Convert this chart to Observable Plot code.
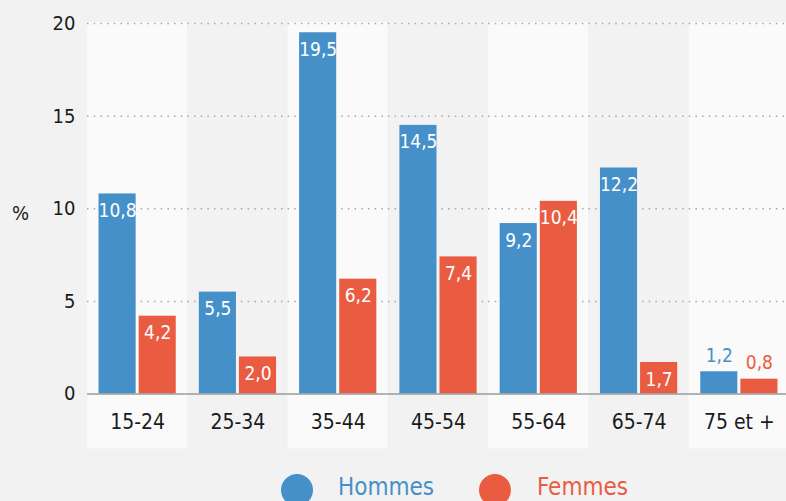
<!DOCTYPE html>
<html><head><meta charset="utf-8">
<script src="https://cdn.jsdelivr.net/npm/d3@7"></script>
<script src="https://cdn.jsdelivr.net/npm/@observablehq/plot@0.6"></script>
<style>
html,body{margin:0;padding:0;background:#f2f2f2;overflow:hidden;width:786px;height:501px;}
body{font-family:"Liberation Sans Narrow","DejaVu Sans Condensed",Roboto,sans-serif;}
#wrap{position:relative;width:786px;height:501px;}
#legend{position:absolute;left:0;top:460px;width:786px;height:41px;overflow:hidden;}
.dot{position:absolute;width:32px;height:32px;border-radius:50%;top:14px;}
.lab{position:absolute;top:12px;font-size:24px;line-height:30px;}
</style></head>
<body><div id="wrap"><div id="chart"></div><div id="legend"></div></div>
<script>
const categories = ["15-24","25-34","35-44","45-54","55-64","65-74","75 et +"];
const hommes = [10.8, 5.5, 19.5, 14.5, 9.2, 12.2, 1.2];
const femmes = [4.2, 2.0, 6.2, 7.4, 10.4, 1.7, 0.8];
const series = ["Hommes", "Femmes"];
const colors = ["#4590c8", "#ea5c41"];
const yTicks = [0, 5, 10, 15, 20];
const gridTicks = [5, 10, 15, 20];

const rows = [];
categories.forEach((c, i) => {
  rows.push({cat: c, sex: "Hommes", v: hommes[i]});
  rows.push({cat: c, sex: "Femmes", v: femmes[i]});
});
const fmt = v => v.toFixed(1).replace(".", ",");
const bands = categories.map((c, i) => ({cat: c, alt: i % 2 === 0}));
const font = '"Liberation Sans Narrow","DejaVu Sans Condensed",Roboto,sans-serif';

const chart = Plot.plot({
  width: 786, height: 460,
  marginLeft: 87, marginRight: -3, marginTop: 23, marginBottom: 66.5,
  style: {background: "transparent", fontFamily: font, color: "#1a1a1a"},
  fx: {domain: categories, padding: 0, round: false, label: null},
  x: {domain: series, paddingInner: 0.075, paddingOuter: 0.2875, round: false, axis: null},
  y: {domain: [0, 20], axis: null, label: null},
  color: {domain: series, range: colors},
  marks: [
    Plot.barY(bands, {fx: "cat", y1: 0, y2: 20, fill: d => d.alt ? "#fafafa" : "#f2f2f2", insetBottom: -55, insetTop: -1}),
    Plot.ruleY(gridTicks, {y: d => d, stroke: "#a8a8a8", strokeWidth: 1.5, strokeDasharray: "1.5,5.2"}),
    Plot.barY(rows, {fx: "cat", x: "sex", y: "v", fill: "sex"}),
    Plot.ruleY([0], {stroke: "#9a9a9a", strokeWidth: 1.5}),
    Plot.text(rows.filter(d => d.v >= 1.5), {fx: "cat", x: "sex", y: "v", text: d => fmt(d.v), fill: "white", dy: 17, fontSize: 19}),
    Plot.text(rows.filter(d => d.v < 1.5), {fx: "cat", x: "sex", y: "v", text: d => fmt(d.v), fill: "sex", dy: -16, fontSize: 19}),
    Plot.axisY(yTicks, {tickSize: 0, tickPadding: 12, fontSize: 20, fill: "#1a1a1a", label: null}),
    Plot.axisFx({anchor: "bottom", tickSize: 0, tickPadding: 20, fontSize: 21, fill: "#1a1a1a", label: null}),
    Plot.text([{t: "%", cat: categories[0]}], {fx: "cat", y: 10, text: "t", frameAnchor: "left", textAnchor: "middle", dx: -67, dy: 5, fontSize: 20, fill: "#1a1a1a"})
  ]
});
document.getElementById("chart").appendChild(chart);

const legend = document.getElementById("legend");
const pos = [[281, 338], [479, 537]];
series.forEach((s, i) => {
  const d = document.createElement("div");
  d.className = "dot"; d.style.left = pos[i][0] + "px"; d.style.background = colors[i];
  legend.appendChild(d);
  const t = document.createElement("div");
  t.className = "lab"; t.style.left = pos[i][1] + "px"; t.style.color = colors[i];
  t.textContent = s;
  legend.appendChild(t);
});
</script></body></html>
